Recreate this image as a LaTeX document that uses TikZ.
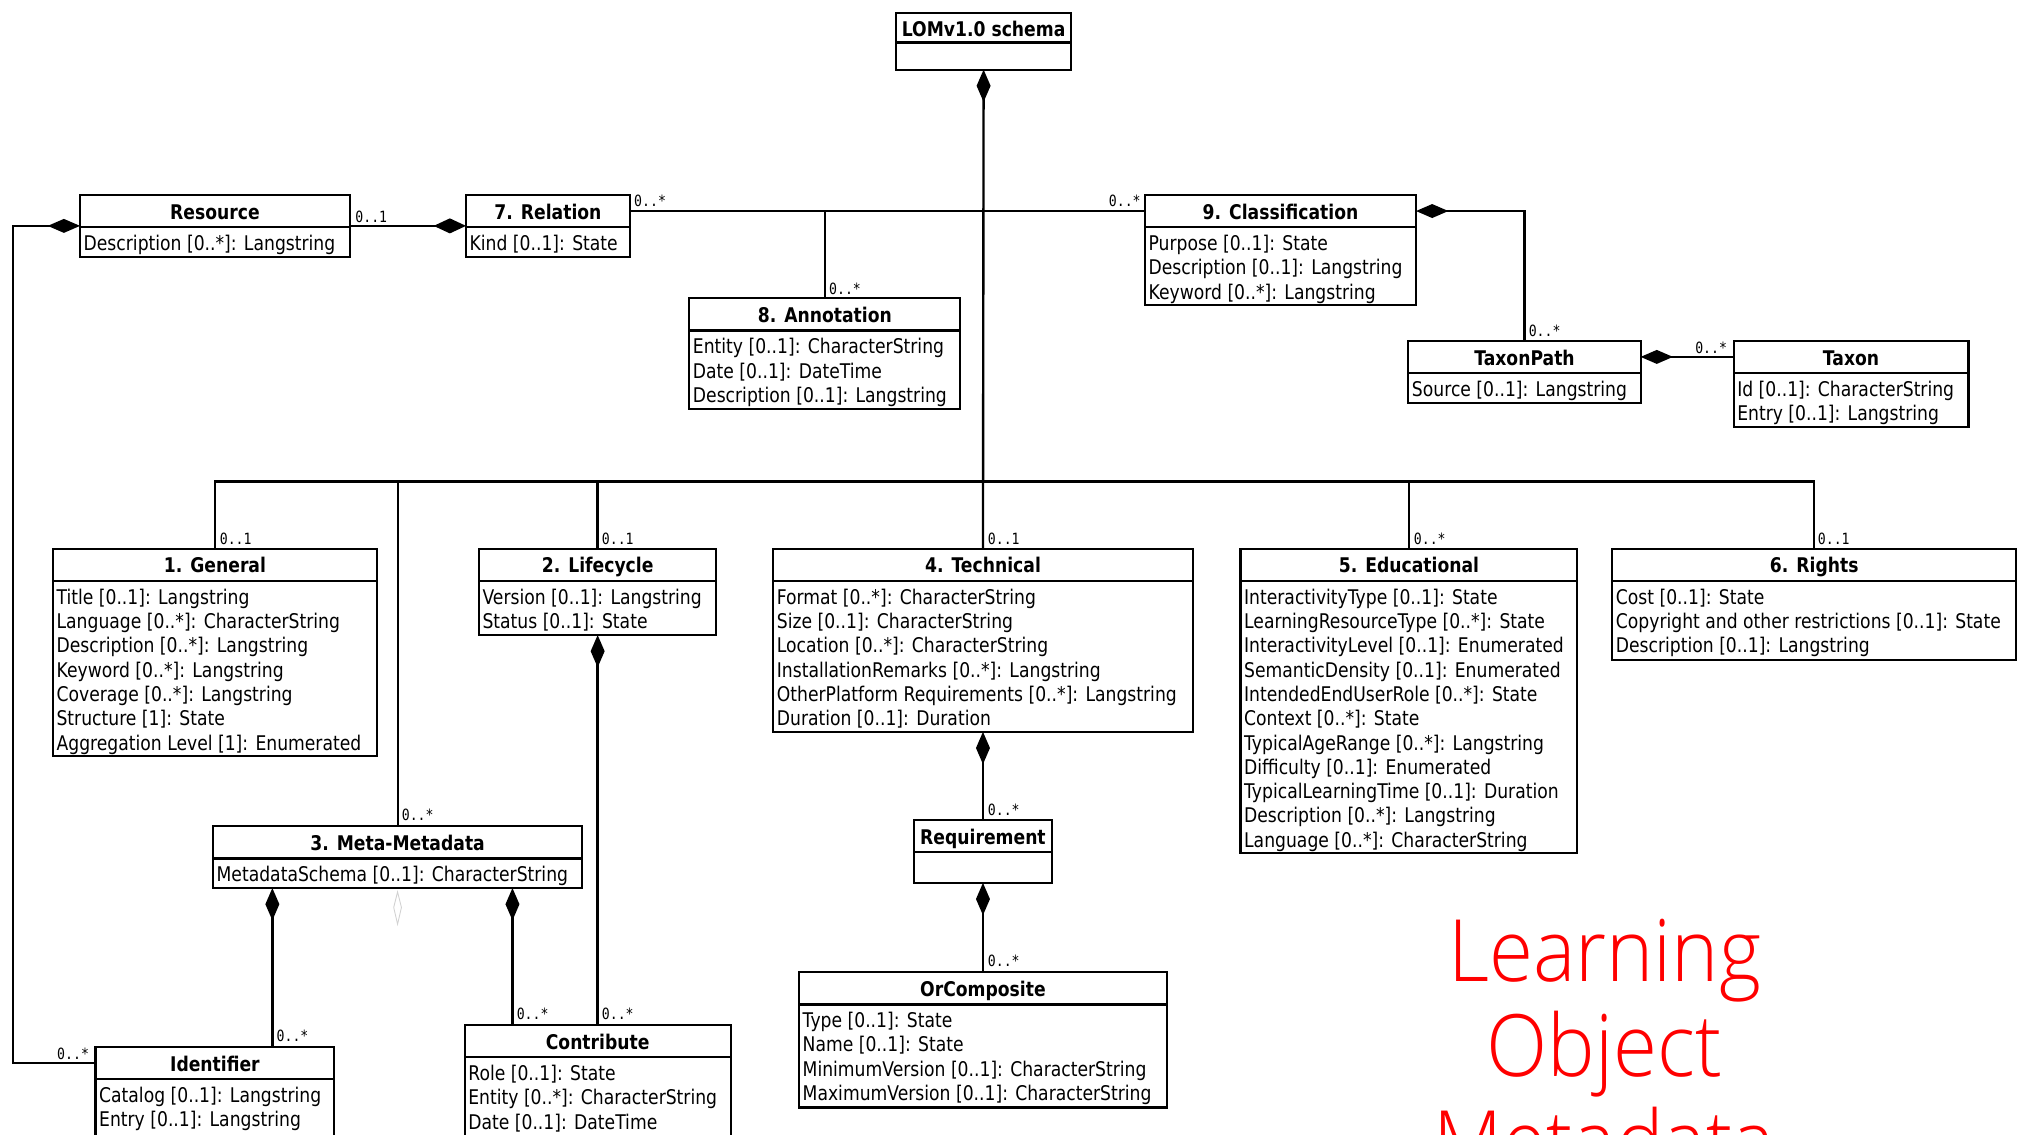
\documentclass[tikz,border=0pt]{standalone}
\usepackage{fontspec}
\usetikzlibrary{arrows.meta,calc}
\newfontfamily\umlfont{DejaVu Sans}[FakeStretch=0.85]
\newfontfamily\multfont{DejaVu Sans Mono}[FakeStretch=0.85]
\newfontfamily\bannerfont{Open Sans Light}[FakeStretch=0.93]

\tikzset{
  classbox/.style={draw, line width=1pt, anchor=north west, inner sep=0pt, outer sep=0pt},
  classtitle/.style={font=\umlfont\bfseries\fontsize{9.4}{11.3}\selectfont, anchor=base, inner sep=0pt},
  classbody/.style={font=\umlfont\fontsize{9.4}{11.3}\selectfont, anchor=north west, align=left, inner sep=0pt},
  multlabel/.style={font=\multfont\fontsize{7.2}{8}\selectfont, inner sep=0pt, anchor=base west},
  link/.style={line width=1.1pt},
  thinlink/.style={line width=0.9pt},
  comp/.style={line width=1.1pt, {Diamond[length=15pt,width=6.5pt]}-},
  compend/.style={line width=1.1pt, -{Diamond[length=15pt,width=7pt]}},
  banner/.style={font=\bannerfont\fontsize{40}{44}\selectfont, text=red, anchor=base, inner sep=0pt},
}

% #1 name, #2 left, #3 top, #4 right, #5 bottom, #6 header height, #7 class name, #8 attributes
\newcommand\umlclass[8]{%
  \node[classbox, minimum width={(#4-#2)*0.6pt}, minimum height={(#5-#3)*0.6pt}] (#1) at (#2,#3) {};
  \draw[line width=1.2pt] ($(#1.north west)+(0,#6)$) -- ($(#1.north east)+(0,#6)$);
  \coordinate (#1-hw) at ($(#1.north west)+(0,#6/2)$);
  \coordinate (#1-he) at ($(#1.north east)+(0,#6/2)$);
  \node[classtitle] (#1-t) at ($(#1.north)+(0,#6/2+6.4)$) {#7};
  \node[classbody] (#1-b) at ($(#1.north west)+(2.5,#6+5.8)$) {#8};
}
\newcommand\mult[3]{\node[multlabel] (#1) at (#2) {#3};}

\begin{document}
\begin{tikzpicture}[x=0.6pt,y=-0.6pt]
\useasboundingbox (0,0) rectangle (1568,879);
\clip (0,0) rectangle (1568,879);

% ---- classes ----
\umlclass{lom}{694}{10}{830}{54}{23}{LOMv1.0 schema}{}
\umlclass{res}{62}{151}{271}{199}{25}{Resource}{Description [0..*]: Langstring}
\umlclass{rel}{361}{151}{488}{199}{25}{7. Relation}{Kind [0..1]: State}
\umlclass{ann}{534}{231}{744}{317}{25}{8. Annotation}{Entity [0..1]: CharacterString\\Date [0..1]: DateTime\\Description [0..1]: Langstring}
\umlclass{cls}{887}{151}{1097}{236}{25}{9. Classification}{Purpose [0..1]: State\\Description [0..1]: Langstring\\Keyword [0..*]: Langstring}
\umlclass{tp}{1091}{264}{1271}{312}{25}{TaxonPath}{Source [0..1]: Langstring}
\umlclass{tax}{1343}{264}{1525}{331}{25}{Taxon}{Id [0..1]: CharacterString\\Entry [0..1]: Langstring}
\umlclass{gen}{41}{425}{292}{586}{25}{1. General}{Title [0..1]: Langstring\\Language [0..*]: CharacterString\\Description [0..*]: Langstring\\Keyword [0..*]: Langstring\\Coverage [0..*]: Langstring\\Structure [1]: State\\Aggregation Level [1]: Enumerated}
\umlclass{life}{371}{425}{555}{492}{25}{2. Lifecycle}{Version [0..1]: Langstring\\Status [0..1]: State}
\umlclass{tech}{599}{425}{924}{567}{25}{4. Technical}{Format [0..*]: CharacterString\\Size [0..1]: CharacterString\\Location [0..*]: CharacterString\\InstallationRemarks [0..*]: Langstring\\OtherPlatform Requirements [0..*]: Langstring\\Duration [0..1]: Duration}
\umlclass{edu}{961}{425}{1222}{661}{25}{5. Educational}{InteractivityType [0..1]: State\\LearningResourceType [0..*]: State\\InteractivityLevel [0..1]: Enumerated\\SemanticDensity [0..1]: Enumerated\\IntendedEndUserRole [0..*]: State\\Context [0..*]: State\\TypicalAgeRange [0..*]: Langstring\\Difficulty [0..1]: Enumerated\\TypicalLearningTime [0..1]: Duration\\Description [0..*]: Langstring\\Language [0..*]: CharacterString}
\umlclass{rights}{1249}{425}{1562}{511}{25}{6. Rights}{Cost [0..1]: State\\Copyright and other restrictions [0..1]: State\\Description [0..1]: Langstring}
\umlclass{meta}{165}{640}{451}{688}{25}{3. Meta-Metadata}{MetadataSchema [0..1]: CharacterString}
\umlclass{req}{708}{635}{815}{684}{25}{Requirement}{}
\umlclass{orc}{619}{753}{904}{858}{25}{OrComposite}{Type [0..1]: State\\Name [0..1]: State\\MinimumVersion [0..1]: CharacterString\\MaximumVersion [0..1]: CharacterString}
\umlclass{idf}{74}{811}{259}{885}{25}{Identifier}{Catalog [0..1]: Langstring\\Entry [0..1]: Langstring}
\umlclass{con}{360}{794}{566}{885}{25}{Contribute}{Role [0..1]: State\\Entity [0..*]: CharacterString\\Date [0..1]: DateTime}

% ---- ports on box edges ----
\coordinate (bus) at (762,373);
\coordinate (res-pe) at ($(res.north east)+(0,24)$);
\coordinate (res-pw) at ($(res.north west)+(0,24)$);
\coordinate (rel-pw) at ($(rel.north west)+(0,24)$);
\coordinate (meta-pl) at ($(meta.south west)+(46,0)$);
\coordinate (meta-pr) at ($(meta.south west)+(232,0)$);
\coordinate (idf-pt) at ($(idf.north west)+(137,0)$);
\coordinate (con-pt) at ($(con.north west)+(37,0)$);

% ---- connectors ----
\draw[comp] (lom.south) -- (tech.north);
\draw[link] (rel-he) -- (cls-hw);
\draw[thinlink] (ann.north |- rel-he) -- (ann.north);
\draw[comp] (cls-he) -| (tp.north);
\draw[comp] (tp-he) -- (tax-hw);
\draw[compend] (res-pe) -- (rel-pw);
\draw[comp, line width=0.9pt] (res-pw) -- ++(-52,0) |- (idf-hw);

\draw[link] (gen.north) -- (gen.north |- bus) -- (rights.north |- bus) -- (rights.north);
\draw[link] (life.north |- bus) -- (life.north);
\draw[link] (edu.north |- bus) -- (edu.north);
\draw[thinlink] (meta.north |- bus) -- (meta.north);

\draw[comp] (life.south) -- (con.north);
\draw[comp] (meta-pl) -- (idf-pt);
\draw[comp] (meta-pr) -- (con-pt);
\draw[comp] (tech.south) -- (req.north);
\draw[comp] (req.south) -- (orc.north);

% faint open diamond under Meta-Metadata
\draw[black!18, line width=0.4pt] (308,691) -- (311,703) -- (308,716) -- (305,703) -- cycle;

% ---- multiplicities ----
\mult{m-rel}{491,160}{0..*}
\mult{m-res}{275,172}{0..1}
\node[multlabel, anchor=base east] (m-cls) at (884,160) {0..*};
\mult{m-ann}{642,228}{0..*}
\mult{m-tp}{1184,261}{0..*}
\mult{m-tax}{1313,274}{0..*}
\mult{m-idl}{44,821}{0..*}
\mult{m-gen}{170,422}{0..1}
\mult{m-life}{466,422}{0..1}
\mult{m-tech}{765,422}{0..1}
\mult{m-edu}{1095,422}{0..*}
\mult{m-rights}{1408,422}{0..1}
\mult{m-meta}{311,636}{0..*}
\mult{m-idt}{214,807}{0..*}
\mult{m-con1}{400,790}{0..*}
\mult{m-con2}{466,790}{0..*}
\mult{m-req}{765,632}{0..*}
\mult{m-orc}{765,749}{0..*}

% ---- banner ----
\node[banner] (ban1) at (1243,760) {Learning};
\node[banner] (ban2) at (1243,834) {Object};
\node[banner] (ban3) at (1243,908) {Metadata};
\end{tikzpicture}
\end{document}
